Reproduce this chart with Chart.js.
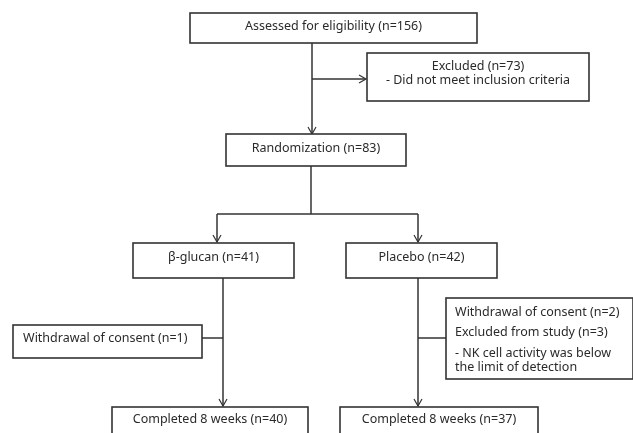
<!DOCTYPE html>
<html>
<head>
<meta charset="utf-8">
<script src="https://cdn.jsdelivr.net/npm/chart.js@4.4.1/dist/chart.umd.min.js"></script>
<style>
html,body{margin:0;padding:0;background:#fff;}
#wrap{width:633px;height:433px;position:relative;}
</style>
</head>
<body>
<div id="wrap"><canvas id="c" width="633" height="433"></canvas></div>
<script>
// ---- data ----
const stageNames = ["Assessed for eligibility", "Excluded", "Randomization", "β-glucan", "Placebo", "Completed 8 weeks", "Completed 8 weeks"];
const stageCounts = [156, 73, 83, 41, 42, 40, 37];
const excludedReasons = ["- Did not meet inclusion criteria"];
const lossNamesGlucan = ["Withdrawal of consent"];
const lossCountsGlucan = [1];
const lossNamesPlacebo = ["Withdrawal of consent", "Excluded from study"];
const lossCountsPlacebo = [2, 3];
const placeboNote = ["- NK cell activity was below", "the limit of detection"];

// ---- layout (positions in axis units) ----
const L = {
  boxes: [
    {x0:190, x1:477, y0:13, y1:43},   // assessed
    {x0:367, x1:589, y0:53, y1:101},  // excluded
    {x0:226, x1:406, y0:134, y1:166}, // randomization
    {x0:133, x1:294, y0:243, y1:278}, // glucan
    {x0:346, x1:497, y0:243, y1:278}, // placebo
    {x0:112, x1:308, y0:407, y1:445}, // completed glucan
    {x0:340, x1:538, y0:407, y1:445}, // completed placebo
    {x0:13, x1:202, y0:325, y1:358},  // withdrawal left
    {x0:446, x1:633, y0:298, y1:379}  // right loss box
  ],
  lines: [
    [[312,43],[312,134]],
    [[312,79],[365,79]],
    [[311,166],[311,214]],
    [[217,214],[418,214]],
    [[217,214],[217,242]],
    [[418,214],[418,242]],
    [[223,278],[223,406]],
    [[418,278],[418,406]],
    [[202,338],[223,338]],
    [[418,338],[446,338]]
  ],
  arrows: [
    {x:312,y:134,dir:'down'},
    {x:366,y:79,dir:'right'},
    {x:217,y:242,dir:'down'},
    {x:418,y:242,dir:'down'},
    {x:223,y:406,dir:'down'},
    {x:418,y:406,dir:'down'}
  ]
};

const FONT = '12.5px "Noto Sans", "DejaVu Sans", sans-serif';
const INK = '#2a2a2a';

function lbl(name, n){ return name + ' (n=' + n + ')'; }

const flowPlugin = {
  id: 'flow',
  afterDatasetsDraw(chart){
    const ctx = chart.ctx, sx = chart.scales.x, sy = chart.scales.y;
    const X = v => sx.getPixelForValue(v), Y = v => sy.getPixelForValue(v);
    ctx.save();
    ctx.strokeStyle = '#333';
    ctx.lineWidth = 1.5;
    // lines
    L.lines.forEach(seg => {
      ctx.beginPath();
      ctx.moveTo(X(seg[0][0]), Y(seg[0][1]));
      ctx.lineTo(X(seg[1][0]), Y(seg[1][1]));
      ctx.stroke();
    });
    // arrows (open V)
    ctx.lineWidth = 1.2;
    L.arrows.forEach(a => {
      const px = X(a.x), py = Y(a.y);
      ctx.beginPath();
      if (a.dir === 'down') {
        ctx.moveTo(px-4, py-7); ctx.lineTo(px, py); ctx.lineTo(px+4, py-7);
      } else {
        ctx.moveTo(px-7, py-4); ctx.lineTo(px, py); ctx.lineTo(px-7, py+4);
      }
      ctx.stroke();
    });
    // boxes
    ctx.lineWidth = 1.6;
    L.boxes.forEach(b => {
      ctx.fillStyle = '#fff';
      ctx.fillRect(X(b.x0), Y(b.y0), X(b.x1)-X(b.x0), Y(b.y1)-Y(b.y0));
      ctx.strokeRect(X(b.x0), Y(b.y0), X(b.x1)-X(b.x0), Y(b.y1)-Y(b.y0));
    });
    // texts
    ctx.fillStyle = INK;
    ctx.font = FONT;
    ctx.textBaseline = 'middle';
    const B = L.boxes;
    const cx = b => (X(b.x0)+X(b.x1))/2;
    ctx.textAlign = 'center';
    ctx.fillText(lbl(stageNames[0], stageCounts[0]), cx(B[0]), Y(26));
    ctx.fillText(lbl(stageNames[1], stageCounts[1]), cx(B[1]), Y(66));
    ctx.fillText(excludedReasons[0], cx(B[1]), Y(80));
    ctx.fillText(lbl(stageNames[2], stageCounts[2]), cx(B[2]), Y(148));
    ctx.fillText(lbl(stageNames[3], stageCounts[3]), cx(B[3]), Y(257));
    ctx.fillText(lbl(stageNames[4], stageCounts[4]), cx(B[4]), Y(257));
    ctx.fillText(lbl(stageNames[5], stageCounts[5]), cx(B[5]), Y(419));
    ctx.fillText(lbl(stageNames[6], stageCounts[6]), cx(B[6]), Y(419));
    ctx.textAlign = 'left';
    ctx.fillText(lbl(lossNamesGlucan[0], lossCountsGlucan[0]), X(23), Y(338));
    ctx.fillText(lbl(lossNamesPlacebo[0], lossCountsPlacebo[0]), X(455), Y(312));
    ctx.fillText(lbl(lossNamesPlacebo[1], lossCountsPlacebo[1]), X(455), Y(332));
    ctx.fillText(placeboNote[0], X(455), Y(353));
    ctx.fillText(placeboNote[1], X(455), Y(367));
    ctx.restore();
  }
};

new Chart(document.getElementById('c'), {
  type: 'scatter',
  data: { datasets: [{ data: [], pointRadius: 0 }] },
  options: {
    responsive: false,
    animation: false,
    events: [],
    layout: { padding: 0 },
    plugins: { legend: { display: false }, tooltip: { enabled: false } },
    scales: {
      x: { type: 'linear', min: 0, max: 633, display: false },
      y: { type: 'linear', min: 0, max: 433, reverse: true, display: false }
    }
  },
  plugins: [flowPlugin]
});
</script>
</body>
</html>
